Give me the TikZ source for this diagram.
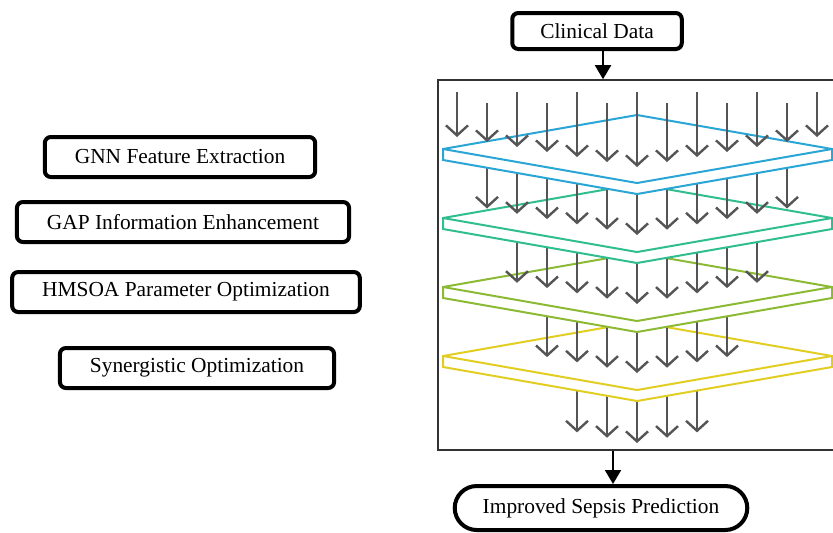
\documentclass[tikz,border=0pt]{standalone}
\usepackage{fontspec}
\setmainfont{Liberation Serif}
\usetikzlibrary{arrows.meta}
\definecolor{planeblue}{HTML}{2AA6D6}
\definecolor{planegreen}{HTML}{30BE90}
\definecolor{planelime}{HTML}{8CBA34}
\definecolor{planeyellow}{HTML}{E2CE22}
\definecolor{flowgray}{HTML}{555555}
\begin{document}
\begin{tikzpicture}[x=0.5pt,y=-0.5pt,
  stagebox/.style={draw,line width=2pt,rounded corners=3pt,inner xsep=15pt,minimum height=20pt,font=\fontsize{10.7}{13}\selectfont},
  endbox/.style={draw,line width=2pt,rounded corners=11pt,inner xsep=14pt,minimum height=22pt,font=\fontsize{10.7}{13}\selectfont},
  flow/.style={line width=1pt,-{Triangle[length=7pt,width=8pt]}},
  flowdown/.style={draw=flowgray,line width=1.2pt,-{Straight Barb[length=5pt,width=11pt]}},
  slab/.style={draw=#1,fill=white,line width=1pt}]
\useasboundingbox (0,0) rectangle (833,532);

\node[stagebox] (gnn) at (180,157) {GNN Feature Extraction};
\node[stagebox] (gap) at (183,222) {GAP Information Enhancement};
\node[stagebox] (hmsoa) at (186,292) {HMSOA Parameter Optimization};
\node[stagebox] (syn) at (197,368) {Synergistic Optimization};

\node[stagebox,inner xsep=14pt,minimum height=18pt] (clinical) at (597,31) {Clinical Data};
\node[draw=black!80,line width=0.8pt,minimum width=198pt,minimum height=185pt] (layers) at (636,265) {};
\node[endbox] (sepsis) at (601,508) {Improved Sepsis Prediction};

\foreach \i [evaluate=\i as \t using 443-5.3*abs(\i)] in {-2,...,2}
  \draw[flowdown] (637+30*\i,362) -- (637+30*\i,\t);
\draw[slab=planeyellow] (443,356) -- ++(194,-34) -- ++(195,34) -- ++(0,11) -- ++(-195,34) -- ++(-194,-34) -- cycle;
\draw[planeyellow,line width=1pt] (443,356) -- ++(194,34) -- ++(195,-34);

\foreach \i [evaluate=\i as \t using 373-5.3*abs(\i)] in {-3,...,3}
  \draw[flowdown] (637+30*\i,293) -- (637+30*\i,\t);
\draw[slab=planelime] (443,287) -- ++(194,-34) -- ++(195,34) -- ++(0,11) -- ++(-195,34) -- ++(-194,-34) -- cycle;
\draw[planelime,line width=1pt] (443,287) -- ++(194,34) -- ++(195,-34);

\foreach \i [evaluate=\i as \t using 304-5.3*abs(\i)] in {-4,...,4}
  \draw[flowdown] (637+30*\i,224) -- (637+30*\i,\t);
\draw[slab=planegreen] (443,218) -- ++(194,-34) -- ++(195,34) -- ++(0,11) -- ++(-195,34) -- ++(-194,-34) -- cycle;
\draw[planegreen,line width=1pt] (443,218) -- ++(194,34) -- ++(195,-34);

\foreach \i [evaluate=\i as \t using 235-5.3*abs(\i)] in {-5,...,5}
  \draw[flowdown] (637+30*\i,155) -- (637+30*\i,\t);
\draw[slab=planeblue] (443,149) -- ++(194,-34) -- ++(195,34) -- ++(0,11) -- ++(-195,34) -- ++(-194,-34) -- cycle;
\draw[planeblue,line width=1pt] (443,149) -- ++(194,34) -- ++(195,-34);

\foreach \i [evaluate=\i as \t using 167-5*abs(\i), evaluate=\i as \s using {92+11*mod(abs(\i),2)}] in {-6,...,6}
  \draw[flowdown] (637+30*\i,\s) -- (637+30*\i,\t);

\draw[flow] ([xshift=3pt]clinical.south) -- ([xshift=3pt]clinical.south |- layers.north);
\draw[flow] ([xshift=6pt]sepsis.north |- layers.south) -- ([xshift=6pt]sepsis.north);
\end{tikzpicture}
\end{document}
